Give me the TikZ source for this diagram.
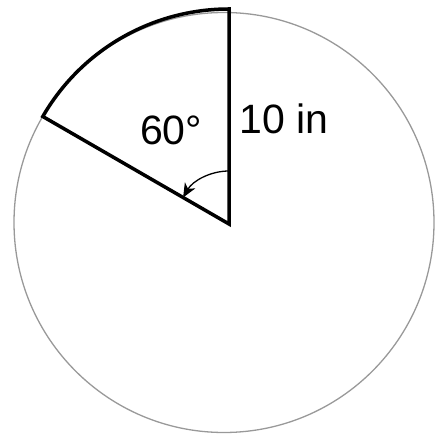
\documentclass[tikz,border=0pt]{standalone}
\usepackage{fontspec}
\setmainfont{Liberation Sans}
\usetikzlibrary{arrows.meta,calc}
\begin{document}
\begin{tikzpicture}[x=1pt,y=1pt,
  sectorline/.style={line width=3.5pt, line join=miter, black},
  outline/.style={draw=black!40, line width=1.3pt},
  anglearrow/.style={line width=1.3pt, -{Stealth[length=14pt,width=12pt,inset=4pt]}},
  lbl/.style={anchor=base west, inner sep=0pt, font=\fontsize{41}{48}\selectfont}]
\useasboundingbox (0,0) rectangle (438,438);
\draw[outline] (224,215.5) circle[radius=210];
\coordinate (O) at (229,214);
\coordinate (T) at ($(O)+(90:215)$);
\coordinate (L) at ($(O)+(150:215)$);
\draw[sectorline] (L) arc[start angle=150,end angle=90,radius=215] -- (O) -- cycle;
\coordinate (A) at ($(O)+(90:53)$);
\draw[anglearrow] (A) arc[start angle=90,end angle=150,radius=53];
\node[lbl] (ang) at (140,293) {60°};
\node[lbl] (rad) at (239,304) {10 in};
\end{tikzpicture}
\end{document}
